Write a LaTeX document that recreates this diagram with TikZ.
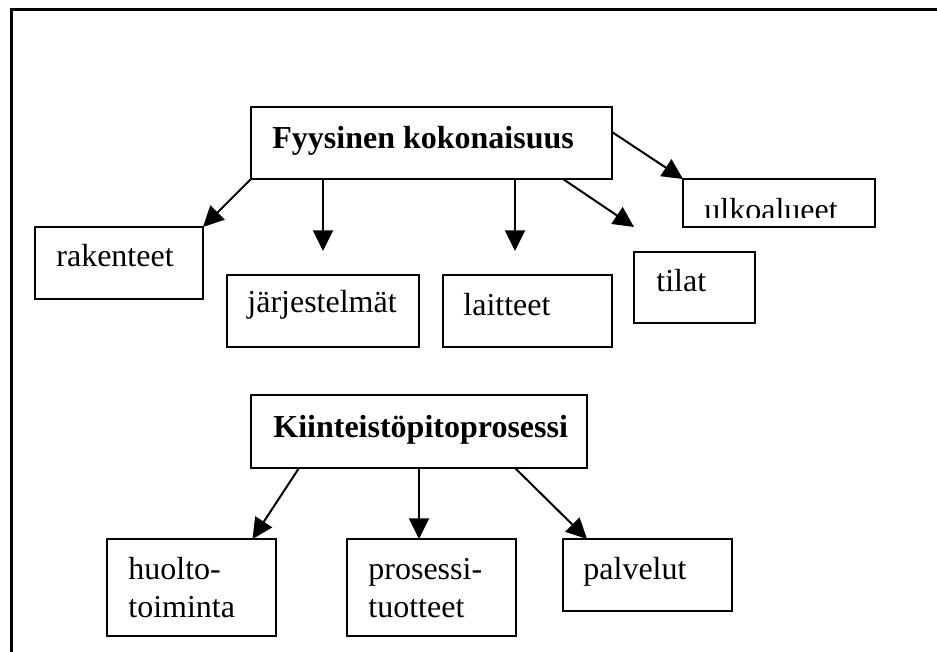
\documentclass[tikz,border=0pt]{standalone}
\usepackage{fontspec}
\setmainfont{Liberation Serif}
\usetikzlibrary{arrows.meta,calc}
\tikzset{
  box/.style={draw, line width=1pt, rectangle, inner sep=0pt, outer sep=0pt, anchor=north west},
  lbl/.style={anchor=base west, inner sep=0pt, font=\fontsize{16pt}{19pt}\selectfont},
  head/.style={lbl, font=\fontsize{16pt}{19pt}\selectfont\bfseries},
  link/.style={line width=1pt, -{Triangle[length=10.3pt,width=10pt]}},
}
\begin{document}
\begin{tikzpicture}[x=0.5pt,y=-0.5pt]
\useasboundingbox (0,0) rectangle (937,652);
% outer frame (top and left edges)
\draw[line width=1.5pt] (937,10) -- (11,10) -- (11,652);

% upper group: physical entity
\node[box, minimum width=180.5pt, minimum height=36pt] (fk) at (251,107) {};
\node[head] (fkt) at (272,149) {Fyysinen kokonaisuus};

\node[box, minimum width=84pt, minimum height=36pt] (rak) at (35,227) {};
\node[lbl] (rakt) at (56,267) {rakenteet};

\node[box, minimum width=96pt, minimum height=36pt] (jar) at (227,275) {};
\node[lbl] (jart) at (247,313) {järjestelmät};

\node[box, minimum width=84.5pt, minimum height=36pt] (lai) at (443,275) {};
\node[lbl] (lait) at (463,315) {laitteet};

\node[box, minimum width=60.5pt, minimum height=35.5pt] (til) at (634,252) {};
\node[lbl] (tilt) at (656,292) {tilat};

\node[box, minimum width=96pt, minimum height=24pt] (ulk) at (683,179) {};
\begin{scope}
  \clip (683,179) rectangle (875,218);
  \node[lbl] (ulkt) at (704,221) {ulkoalueet};
\end{scope}

\coordinate (tipjar) at ($(fk.south west)+(72,72)$);
\coordinate (tiplai) at ($(fk.south west)+(264,72)$);
\coordinate (tiptil) at ($(fk.south west)+(383,48)$);

\draw[link] (fk.south west) -- (rak.north east);
\draw[link] ($(fk.south west)+(72,0)$) -- (tipjar);
\draw[link] ($(fk.south west)+(264,0)$) -- (tiplai);
\draw[link] ($(fk.south west)+(312,0)$) -- (tiptil);
\draw[link] ($(fk.north east)+(0,25)$) -- (ulk.north west);

% lower group: maintenance process
\node[box, minimum width=168pt, minimum height=36.5pt] (kp) at (251,395) {};
\node[head] (kpt) at (273,437) {Kiinteistöpitoprosessi};

\node[box, minimum width=84.5pt, minimum height=48.5pt] (huo) at (107,539) {};
\node[lbl] (huot1) at (128,579) {huolto-};
\node[lbl] (huot2) at (128,617) {toiminta};

\node[box, minimum width=84.5pt, minimum height=48.5pt] (pro) at (347,539) {};
\node[lbl] (prot1) at (368,579) {prosessi-};
\node[lbl] (prot2) at (368,617) {tuotteet};

\node[box, minimum width=84.5pt, minimum height=36pt] (pal) at (563,539) {};
\node[lbl] (palt) at (583,579) {palvelut};

\draw[link] ($(kp.south west)+(48,0)$) -- ($(huo.north east)+(-23.5,0)$);
\draw[link] ($(kp.south west)+(168,0)$) -- ($(pro.north west)+(72,0)$);
\draw[link] ($(kp.south west)+(264,0)$) -- ($(pal.north west)+(24,0)$);
\end{tikzpicture}
\end{document}
